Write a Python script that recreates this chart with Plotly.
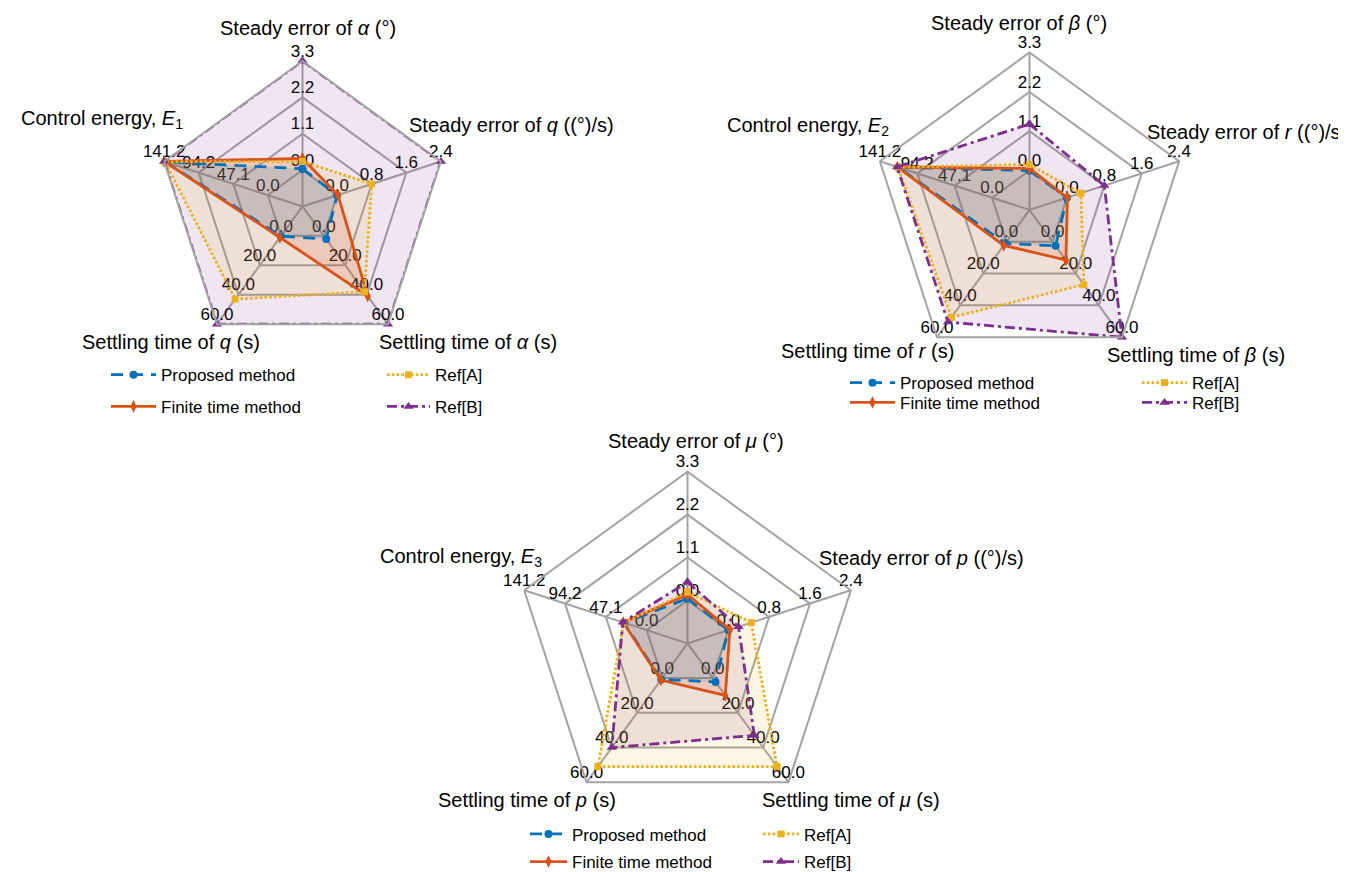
import plotly.graph_objects as go

W, H = 1346, 872

# ---------------- data ----------------
cats1 = ["Steady error of α (°)", "Steady error of q ((°)/s)", "Settling time of α (s)",
         "Settling time of q (s)", "Control energy, E1"]
cats2 = ["Steady error of β (°)", "Steady error of r ((°)/s)", "Settling time of β (s)",
         "Settling time of r (s)", "Control energy, E2"]
cats3 = ["Steady error of μ (°)", "Steady error of p ((°)/s)", "Settling time of μ (s)",
         "Settling time of p (s)", "Control energy, E3"]

titles1 = ["Steady error of <i>α</i> (°)", "Steady error of <i>q</i> ((°)/s)", "Settling time of <i>α</i> (s)",
           "Settling time of <i>q</i> (s)", "Control energy, <i>E</i><sub>1</sub>"]
titles2 = ["Steady error of <i>β</i> (°)", "Steady error of <i>r</i> ((°)/s)", "Settling time of <i>β</i> (s)",
           "Settling time of <i>r</i> (s)", "Control energy, <i>E</i><sub>2</sub>"]
titles3 = ["Steady error of <i>μ</i> (°)", "Steady error of <i>p</i> ((°)/s)", "Settling time of <i>μ</i> (s)",
           "Settling time of <i>p</i> (s)", "Control energy, <i>E</i><sub>3</sub>"]

# tick labels for each of the five axes (same scales in all three charts)
ticks_angle_err = [0.0, 1.1, 2.2, 3.3]
ticks_rate_err = [0.0, 0.8, 1.6, 2.4]
ticks_settle_a = [0.0, 20.0, 40.0, 60.0]
ticks_settle_b = [0.0, 20.0, 40.0, 60.0]
ticks_energy = [0.0, 47.1, 94.2, 141.2]
axis_ticks = [ticks_angle_err, ticks_rate_err, ticks_settle_a, ticks_settle_b, ticks_energy]

series_names = ["Proposed method", "Finite time method", "Ref[A]", "Ref[B]"]

proposed1 = [0.04, 0.00, 2.2, 0.3, 139.0]
finite1 = [0.35, 0.02, 41.0, 1.1, 141.2]
refA1 = [0.26, 0.80, 38.0, 43.0, 140.0]
refB1 = [3.30, 2.40, 60.0, 60.0, 141.2]

proposed2 = [0.00, 0.00, 2.6, 1.0, 118.0]
finite2 = [0.06, 0.01, 11.5, 2.3, 119.0]
refA2 = [0.17, 0.30, 27.0, 47.5, 118.5]
refB2 = [1.30, 0.80, 60.0, 50.5, 119.5]

proposed3 = [0.05, 0.00, 2.2, 0.8, 26.0]
finite3 = [0.15, 0.03, 10.0, 1.1, 27.0]
refA3 = [0.22, 0.45, 51.0, 51.0, 26.5]
refB3 = [0.47, 0.20, 33.0, 40.0, 27.5]

# ---------------- styles ----------------
FONT = "Arial, Liberation Sans, Helvetica, sans-serif"
GRID = "#a3a3a3"
colors = ["#0072BD", "#D95319", "#EDB120", "#7E2F8E"]
fills = ["rgba(0,114,189,0.15)", "rgba(217,83,25,0.15)", "rgba(237,177,32,0.12)", "rgba(126,47,142,0.12)"]
dashes = ["12px,8px", "solid", "2.6px,2.2px", "10px,4px,3px,4px"]
symbols = ["circle", "diamond-tall", "square", "triangle-up"]
msizes = [8, 9, 7, 9]


def to_ring(vals):
    # axis scale: 0 sits on the first ring, the axis maximum on the outer (4th) ring
    return [1 + 3 * v / t[-1] for v, t in zip(vals, axis_ticks)]


charts = [
    dict(cats=cats1, titles=titles1, data=[proposed1, finite1, refA1, refB1],
         cx=294.5, cy=200.5, R=147,
         tpos=[(300, 20, "center"), (399, 118, "left"), (460, 337, "center"), (163, 337, "center"), (94, 113, "center")],
         leg=[(98, 371, 45), (98, 403, 45), (374, 371, 43), (374, 403, 43)]),
    dict(cats=cats2, titles=titles2, data=[proposed2, finite2, refA2, refB2],
         cx=1021.5, cy=204, R=159,
         tpos=[(1011, 15, "center"), (1341, 125, "right"), (1188, 351, "center"), (860, 347, "center"), (800, 120, "center")],
         leg=[(837, 379, 45), (837, 399, 45), (1129, 379, 45), (1129, 399, 45)]),
    dict(cats=cats3, titles=titles3, data=[proposed3, finite3, refA3, refB3],
         cx=679.5, cy=642, R=173.5,
         tpos=[(688, 438, "center"), (809, 556, "left"), (843, 800, "center"), (519, 800, "center"), (453, 555, "center")],
         leg=[(517, 835, 37), (517, 863, 37), (750, 835, 36), (750, 863, 36)]),
]

fig = go.Figure()
layout = dict(width=W, height=H, margin=dict(l=0, r=0, t=0, b=0), paper_bgcolor="white",
              plot_bgcolor="white", font=dict(family=FONT, size=17, color="black"), showlegend=True)
annotations = []
leg_count = 0

for k, ch in enumerate(charts):
    sub = "polar" if k == 0 else f"polar{k + 1}"
    cx, cy, R = ch["cx"], ch["cy"], ch["R"]
    layout[sub] = dict(
        domain=dict(x=[(cx - R) / W, (cx + R) / W], y=[1 - (cy + R) / H, 1 - (cy - R) / H]),
        gridshape="linear", bgcolor="rgba(0,0,0,0)",
        radialaxis=dict(range=[0, 4], tickvals=[1, 2, 3], showticklabels=False, showline=False,
                        ticks="", gridcolor=GRID, gridwidth=1.8),
        angularaxis=dict(rotation=90, direction="clockwise", showticklabels=False, ticks="",
                         linecolor=GRID, linewidth=2, gridcolor=GRID, gridwidth=1.8,
                         categoryorder="array", categoryarray=ch["cats"]),
    )
    # tick labels along every axis
    for i, cat in enumerate(ch["cats"]):
        fig.add_trace(go.Scatterpolar(
            r=[1, 2, 3, 4], theta=[cat] * 4, mode="text",
            text=[f"{t:.1f}" for t in axis_ticks[i]], textposition="top center",
            textfont=dict(family=FONT, size=17, color="black"),
            subplot=sub, showlegend=False, hoverinfo="skip"))
    # filled areas
    for s in [3, 2, 1, 0]:
        rr = to_ring(ch["data"][s])
        fig.add_trace(go.Scatterpolar(
            r=rr + rr[:1], theta=ch["cats"] + ch["cats"][:1], mode="lines", fill="toself",
            fillcolor=fills[s], line=dict(width=0, color="rgba(0,0,0,0)"),
            subplot=sub, showlegend=False, hoverinfo="skip"))
    # lines + markers, one single-entry legend per series
    for s in [0, 1, 2, 3]:
        leg_count += 1
        lname = "legend" if leg_count == 1 else f"legend{leg_count}"
        lx, ly, iw = ch["leg"][s]
        layout[lname] = dict(x=lx / W, y=1 - ly / H, xanchor="left", yanchor="middle",
                             orientation="v", bgcolor="rgba(0,0,0,0)", itemwidth=iw,
                             font=dict(family=FONT, size=17, color="black"))
        rr = to_ring(ch["data"][s])
        fig.add_trace(go.Scatterpolar(
            r=rr + rr[:1], theta=ch["cats"] + ch["cats"][:1], mode="lines+markers",
            name=series_names[s], legend=lname,
            line=dict(color=colors[s], width=2.8, dash=dashes[s]),
            marker=dict(symbol=symbols[s], size=msizes[s], color=colors[s]),
            subplot=sub))
    for (tx, ty, al), txt in zip(ch["tpos"], ch["titles"]):
        annotations.append(dict(x=tx / W, y=1 - ty / H, xref="paper", yref="paper", text=txt,
                                showarrow=False, xanchor=al, yanchor="middle",
                                font=dict(family=FONT, size=20, color="black")))

layout["annotations"] = annotations
fig.update_layout(**layout)
fig.write_html("out.html")
